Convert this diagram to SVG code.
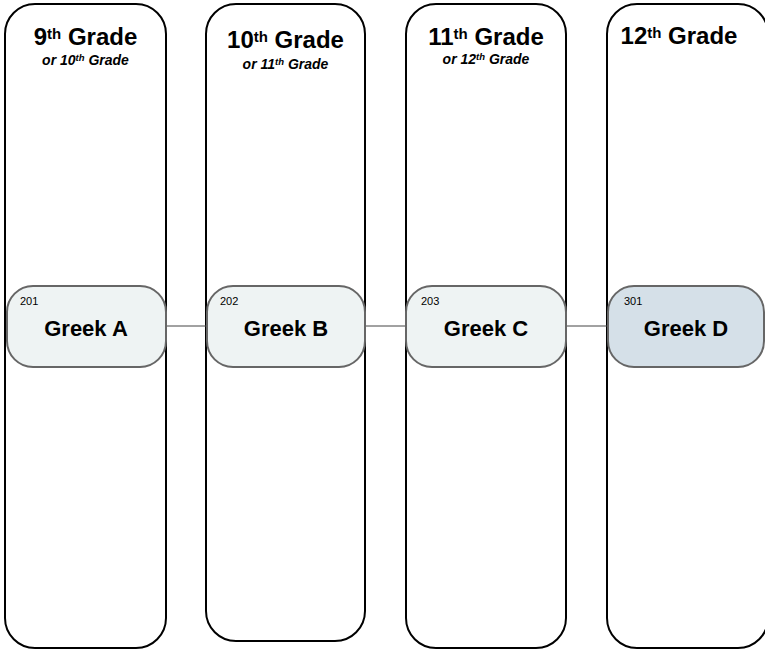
<svg xmlns="http://www.w3.org/2000/svg" width="765" height="650" viewBox="0 0 765 650">
<style>
.col{fill:#fff;stroke:#000;stroke-width:2}
.node{fill:#eef3f3;stroke:#666;stroke-width:2}
.node.d{fill:#d5e0e8}
.h{font-family:"Liberation Sans",Arial,sans-serif;font-weight:bold;font-size:24px;text-anchor:middle;fill:#000}
.h tspan.s{font-size:15px}
.sub{font-family:"Liberation Sans",Arial,sans-serif;font-weight:bold;font-style:italic;font-size:14px;text-anchor:middle;fill:#000}
.sub tspan.s{font-size:9.5px}
.num{font-family:"Liberation Sans",Arial,sans-serif;font-size:11px;fill:#000}
.lbl{font-family:"Liberation Sans",Arial,sans-serif;font-weight:bold;font-size:22px;text-anchor:middle;fill:#000}
.edge{stroke:#444;stroke-width:1;fill:none}
</style>
<g id="col9">
<rect class="col" x="5" y="4" width="161" height="644" rx="30"/>
<text class="h" x="85.5" y="45">9<tspan class="s" dy="-6">th</tspan><tspan dy="6"> Grade</tspan></text>
<text class="sub" x="85.5" y="65">or 10<tspan class="s" dy="-4">th</tspan><tspan dy="4"> Grade</tspan></text>
</g>
<g id="col10">
<rect class="col" x="206" y="4" width="159" height="637" rx="30"/>
<text class="h" x="285.5" y="48">10<tspan class="s" dy="-6">th</tspan><tspan dy="6"> Grade</tspan></text>
<text class="sub" x="285.5" y="69">or 11<tspan class="s" dy="-4">th</tspan><tspan dy="4"> Grade</tspan></text>
</g>
<g id="col11">
<rect class="col" x="406" y="4" width="160" height="644" rx="30"/>
<text class="h" x="486" y="45">11<tspan class="s" dy="-6">th</tspan><tspan dy="6"> Grade</tspan></text>
<text class="sub" x="486" y="64">or 12<tspan class="s" dy="-4">th</tspan><tspan dy="4"> Grade</tspan></text>
</g>
<g id="col12">
<rect class="col" x="607" y="4" width="161" height="644" rx="30"/>
<text class="h" x="679" y="44">12<tspan class="s" dy="-6">th</tspan><tspan dy="6"> Grade</tspan></text>
</g>
<g id="connectors">
<line class="edge" x1="166" y1="326" x2="206" y2="326"/>
<line class="edge" x1="365" y1="326" x2="406" y2="326"/>
<line class="edge" x1="566" y1="326" x2="607" y2="326"/>
</g>
<g id="greekA">
<rect class="node" x="7" y="286" width="159" height="81" rx="26"/>
<text class="num" x="20" y="305">201</text>
<text class="lbl" x="86" y="336">Greek A</text>
</g>
<g id="greekB">
<rect class="node" x="207" y="286" width="158" height="81" rx="26"/>
<text class="num" x="220" y="305">202</text>
<text class="lbl" x="286" y="336">Greek B</text>
</g>
<g id="greekC">
<rect class="node" x="406" y="286" width="160" height="81" rx="26"/>
<text class="num" x="421" y="305">203</text>
<text class="lbl" x="486" y="336">Greek C</text>
</g>
<g id="greekD">
<rect class="node d" x="608" y="286" width="156" height="81" rx="26"/>
<text class="num" x="624" y="305">301</text>
<text class="lbl" x="686" y="336">Greek D</text>
</g>
</svg>
